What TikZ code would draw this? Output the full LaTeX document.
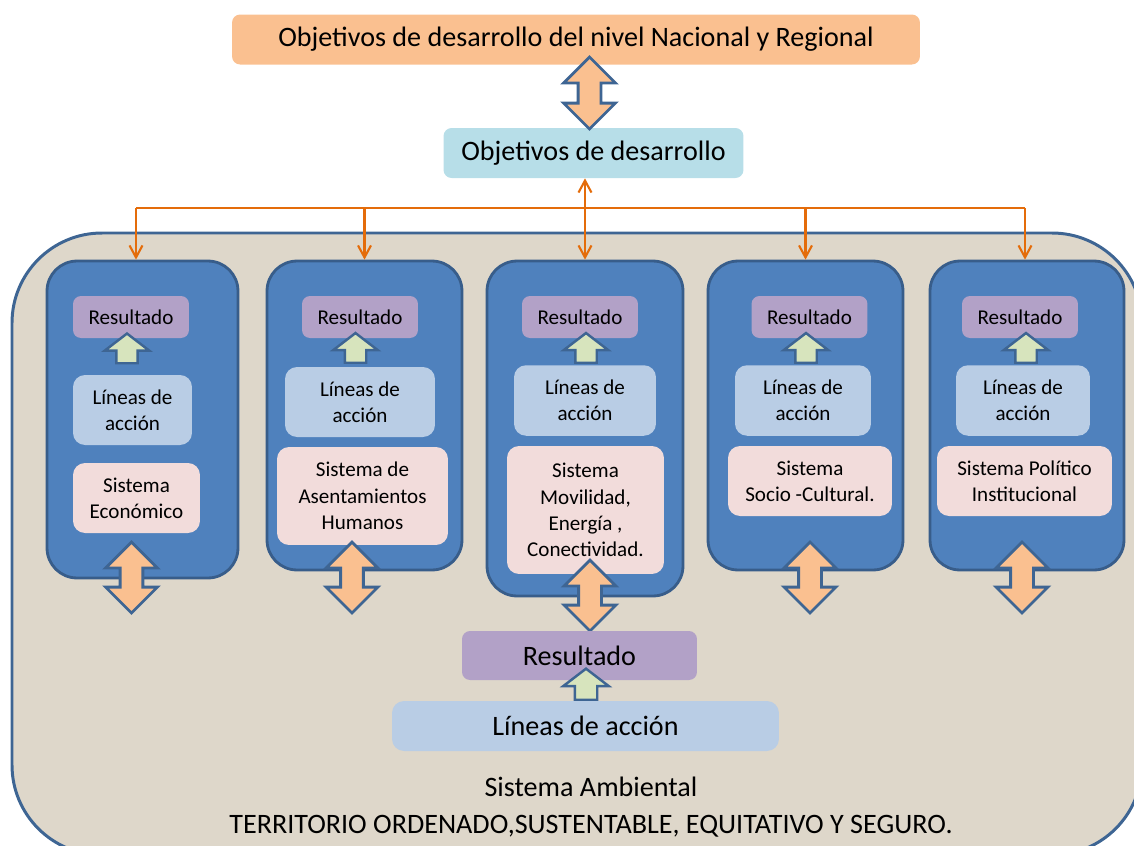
\documentclass[tikz,border=0pt]{standalone}
\usepackage{fontspec}
\setmainfont{Carlito}
\usetikzlibrary{shapes.arrows,arrows.meta}

\definecolor{peach}{HTML}{FAC090}
\definecolor{objcyan}{HTML}{B7DEE8}
\definecolor{sand}{HTML}{DED7CA}
\definecolor{frameline}{HTML}{3E6593}
\definecolor{colblue}{HTML}{4F81BD}
\definecolor{colline}{HTML}{385D8A}
\definecolor{resviolet}{HTML}{B2A1C7}
\definecolor{linblue}{HTML}{B9CDE5}
\definecolor{sispink}{HTML}{F2DCDB}
\definecolor{upgreen}{HTML}{D7E4BD}
\definecolor{arrline}{HTML}{3E6593}
\definecolor{feedorange}{HTML}{E46C0A}

\begin{document}
\begin{tikzpicture}[x=0.02cm,y=-0.02cm,
  titlebox/.style={rounded corners=0.16cm, align=center, inner sep=0pt, font=\fontsize{16}{19}\selectfont},
  colbox/.style={draw=colline, line width=1.6pt, fill=colblue, rounded corners=0.6cm, inner sep=0pt},
  resbox/.style={fill=resviolet, rounded corners=0.16cm, align=center, inner sep=0pt, font=\fontsize{12}{15}\selectfont, minimum width=2.32cm, minimum height=0.84cm},
  linbox/.style={fill=linblue, rounded corners=0.24cm, align=center, inner sep=0pt, font=\fontsize{12}{15}\selectfont, minimum height=1.41cm},
  sisbox/.style={fill=sispink, rounded corners=0.24cm, align=center, inner sep=0pt, font=\fontsize{12}{15}\selectfont},
  dblarr/.style={double arrow, draw=arrline, line width=1.6pt, fill=peach, shape border rotate=90, minimum height=1.42cm, minimum width=1.02cm, double arrow head extend=0.29cm, inner sep=0.2cm},
  uparr/.style={single arrow, draw=arrline, line width=1.4pt, fill=upgreen, shape border rotate=90, minimum height=0.58cm, minimum width=0.86cm, single arrow head extend=0.23cm, single arrow tip angle=105, inner sep=0.19cm},
  feed/.style={draw=feedorange, line width=1.2pt, -{Straight Barb[length=2.4mm,width=2.6mm]}}
]
\clip (0,0) rectangle (1134,846);
\draw[draw=frameline, line width=1.7pt, fill=sand, rounded corners=1.8cm] (12,233) rectangle (1142,855);

\node[titlebox, fill=peach, minimum width=13.76cm, minimum height=1cm] (nac) at (576,39.5) {Objetivos de desarrollo del nivel Nacional y Regional};
\node[titlebox, fill=objcyan, minimum width=6cm, minimum height=1cm] (obj) at (593.5,153) {Objetivos de desarrollo};
\node[dblarr, minimum height=1.44cm] (a0) at (589.5,93) {};

% the five systems
\node[colbox, minimum width=3.82cm, minimum height=6.34cm] (c1) at (142.5,419.5) {};
\node[colbox, minimum width=3.9cm, minimum height=6.18cm] (c2) at (364.5,415.5) {};
\node[colbox, minimum width=3.92cm, minimum height=6.7cm] (c3) at (585,428.5) {};
\node[colbox, minimum width=3.9cm, minimum height=6.18cm] (c4) at (805.5,415.5) {};
\node[colbox, minimum width=3.88cm, minimum height=6.18cm] (c5) at (1027,415.5) {};

\coordinate (busL) at (136,208);
\coordinate (busR) at (1025,208);
\draw[draw=feedorange, line width=1.2pt] (busL) -- (busR);
\draw[feed] (busL) -- (c1.north -| busL);
\draw[feed] (c2.north |- busL) -- (c2.north);
\draw[feed, {Straight Barb[length=2.4mm,width=2.6mm]}-{Straight Barb[length=2.4mm,width=2.6mm]}] (c3.north |- obj.south) -- (c3.north);
\draw[feed] (c4.north |- busL) -- (c4.north);
\draw[feed] (busR) -- (c5.north -| busR);

\node[resbox] (r1) at (131,317) {Resultado};
\node[linbox, minimum width=2.38cm, minimum height=1.4cm] (l1) at (132.5,410) {Líneas de\\acción};
\node[sisbox, minimum width=2.54cm, minimum height=1.4cm] (s1) at (136.5,498) {Sistema\\Económico};

\node[resbox] (r2) at (360,317) {Resultado};
\node[linbox, minimum width=3cm, minimum height=1.4cm] (l2) at (360,402) {Líneas de\\acción};
\node[sisbox, minimum width=3.42cm, minimum height=1.96cm] (s2) at (362.5,496) {Sistema de\\Asentamientos\\Humanos};

\node[resbox] (r3) at (580,317) {Resultado};
\node[linbox, minimum width=2.84cm] (l3) at (585,400.5) {Líneas de\\acción};
\node[sisbox, minimum width=3.14cm, minimum height=2.56cm] (s3) at (585.5,510) {Sistema\\Movilidad,\\Energía ,\\Conectividad.};

\node[resbox] (r4) at (809.5,317) {Resultado};
\node[linbox, minimum width=2.72cm] (l4) at (803,400.5) {Líneas de\\acción};
\node[sisbox, minimum width=3.28cm, minimum height=1.4cm] (s4) at (810,481) {Sistema\\Socio -Cultural.};

\node[resbox] (r5) at (1020,317) {Resultado};
\node[linbox, minimum width=2.68cm] (l5) at (1023,400.5) {Líneas de\\acción};
\node[sisbox, minimum width=3.5cm, minimum height=1.4cm] (s5) at (1024.5,481) {Sistema Político\\Institucional};

\node[uparr] (u1) at (127,352.5) {};
\node[uparr] (u2) at (355.5,352) {};
\node[uparr] (u3) at (586,352) {};
\node[uparr] (u4) at (806,352) {};
\node[uparr] (u5) at (1026,352) {};

\node[dblarr] (d1) at (131.5,577.5) {};
\node[dblarr] (d2) at (352,577.5) {};
\node[dblarr] (d3) at (590,595.5) {};
\node[dblarr] (d4) at (810,577.5) {};
\node[dblarr] (d5) at (1022,577.5) {};

% environmental system
\node[resbox, minimum width=4.7cm, minimum height=0.98cm, font=\fontsize{16}{19}\selectfont] (rb) at (579.5,655.5) {Resultado};
\node[linbox, minimum width=7.74cm, minimum height=1cm, font=\fontsize{16}{19}\selectfont] (lb) at (585.5,726) {Líneas de acción};
\node[uparr, minimum height=0.54cm, minimum width=0.9cm, inner sep=0.2cm] (ub) at (586,688.5) {};
\node[align=center, font=\fontsize{16}{21.5}\selectfont] (amb) at (591,807) {Sistema Ambiental\\TERRITORIO ORDENADO,SUSTENTABLE, EQUITATIVO Y SEGURO.};
\end{tikzpicture}
\end{document}
